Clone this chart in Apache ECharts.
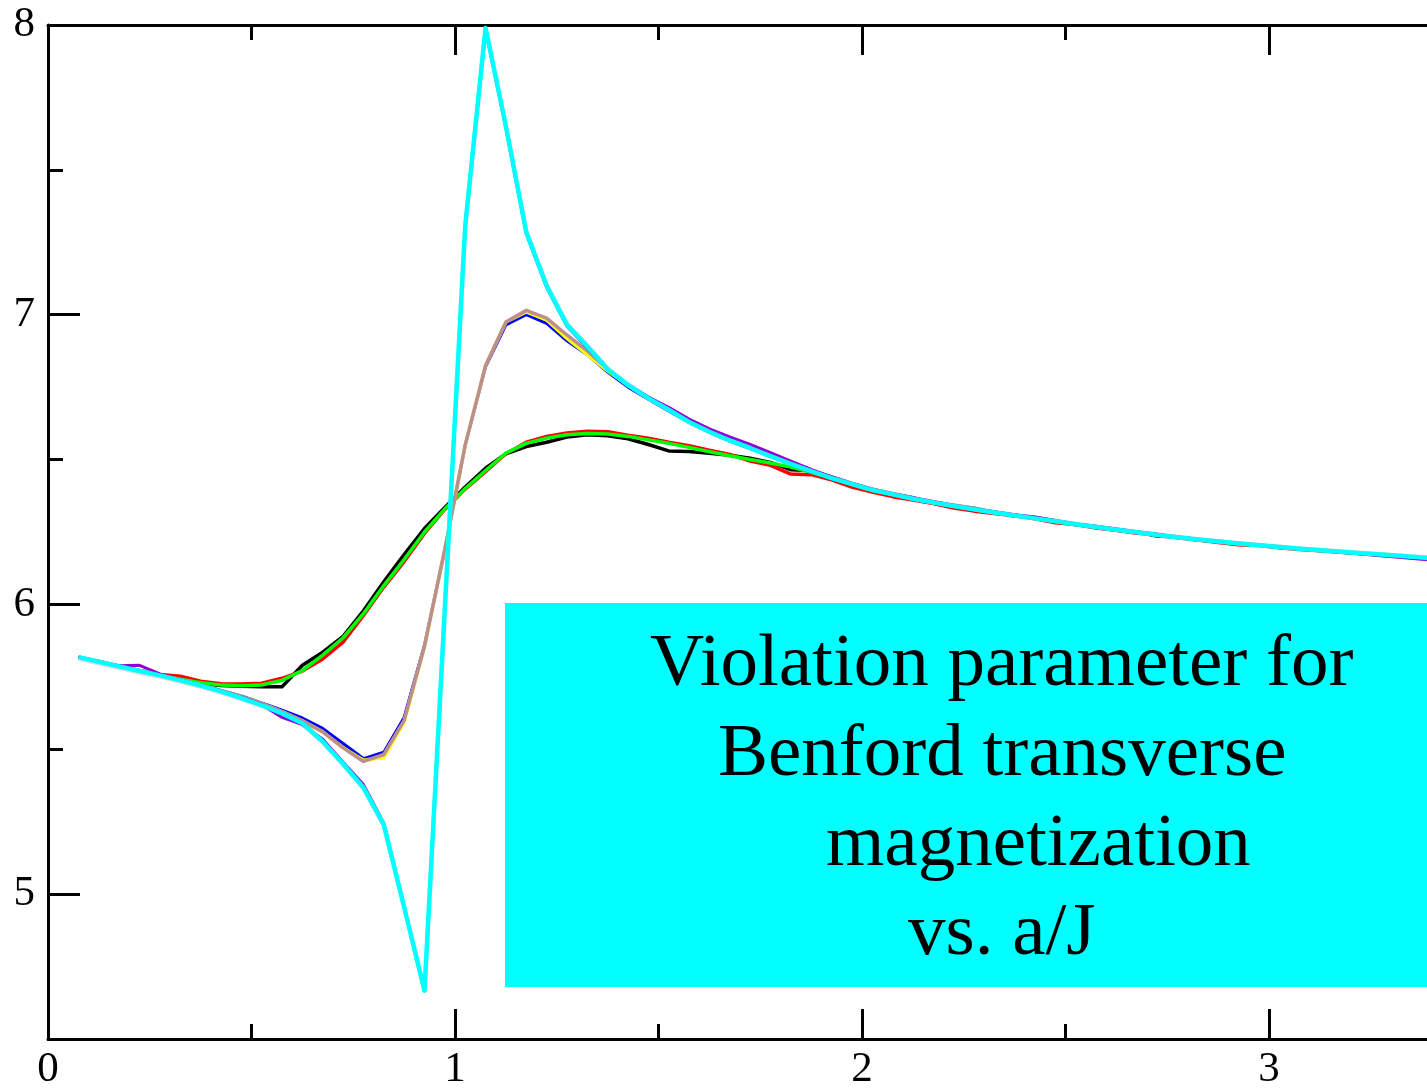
<!DOCTYPE html>
<html><head><meta charset="utf-8">
<script src="https://cdn.jsdelivr.net/npm/echarts@6/dist/echarts.min.js"></script>
<style>html,body{margin:0;padding:0;background:#fff}#c{width:1427px;height:1091px}</style>
</head><body><div id="c"></div>
<script>
// x = a/J
const xValues = [0.075,0.125,0.175,0.225,0.275,0.325,0.375,0.425,0.475,0.525,0.575,0.625,0.675,0.725,0.775,0.825,0.875,0.925,0.975,1.025,1.075,1.125,1.175,1.225,1.275,1.325,1.375,1.425,1.475,1.525,1.575,1.625,1.675,1.725,1.775,1.825,1.875,1.925,1.975,
2.025,2.075,2.125,2.175,2.225,2.275,2.325,2.375,2.425,2.475,2.525,2.575,2.625,2.675,2.725,2.775,2.825,2.875,2.925,2.975,3.025,3.075,3.125,3.175,3.225,3.275,3.325,3.375,3.425];

const blackVals = [5.818,5.802,5.786,5.770,5.754,5.740,5.728,5.720,5.718,5.716,5.716,5.790,5.835,5.890,5.978,6.078,6.172,6.262,6.335,6.405,6.470,6.520,6.545,6.560,6.578,6.586,6.582,6.572,6.552,6.530,6.528,6.522,6.515,6.505,6.490,6.465,6.462,6.440,6.418,
6.398,6.382,6.368,6.350,6.342,6.332,6.318,6.305,6.300,6.288,6.275,6.268,6.256,6.250,6.236,6.233,6.222,6.218,6.208,6.205,6.197,6.193,6.186,6.183,6.176,6.173,6.166,6.163,6.156];
const redVals = [5.818,5.803,5.788,5.772,5.758,5.752,5.735,5.726,5.725,5.728,5.745,5.770,5.812,5.870,5.962,6.060,6.148,6.245,6.328,6.398,6.458,6.520,6.560,6.580,6.592,6.598,6.596,6.584,6.574,6.560,6.548,6.532,6.518,6.495,6.480,6.450,6.448,6.430,6.405,
6.388,6.372,6.360,6.348,6.333,6.322,6.314,6.306,6.296,6.282,6.276,6.264,6.256,6.246,6.241,6.230,6.222,6.214,6.206,6.203,6.196,6.190,6.185,6.180,6.176,6.170,6.165,6.160,6.155];
const greenVals = [5.818,5.802,5.786,5.771,5.756,5.742,5.730,5.722,5.719,5.722,5.738,5.772,5.825,5.885,5.968,6.065,6.155,6.250,6.330,6.400,6.462,6.522,6.556,6.574,6.586,6.590,6.588,6.580,6.568,6.556,6.542,6.527,6.513,6.500,6.488,6.474,6.456,6.436,6.415,
6.395,6.380,6.365,6.352,6.340,6.328,6.317,6.307,6.297,6.287,6.277,6.267,6.258,6.249,6.240,6.232,6.224,6.217,6.210,6.204,6.198,6.192,6.187,6.182,6.177,6.172,6.167,6.162,6.157];
const blueVals = [5.818,5.802,5.787,5.772,5.756,5.740,5.722,5.703,5.684,5.660,5.635,5.608,5.572,5.520,5.468,5.490,5.610,5.860,6.190,6.550,6.820,6.965,7.000,6.970,6.910,6.862,6.802,6.750,6.708,6.668,6.628,6.594,6.564,6.538,6.510,6.484,6.458,6.434,6.414,
6.396,6.379,6.366,6.351,6.341,6.327,6.318,6.306,6.298,6.286,6.278,6.266,6.259,6.248,6.241,6.231,6.225,6.216,6.211,6.203,6.199,6.191,6.188,6.181,6.178,6.171,6.168,6.161,6.158];
const yellowVals = [5.818,5.802,5.787,5.772,5.756,5.740,5.722,5.702,5.682,5.658,5.630,5.598,5.560,5.505,5.462,5.472,5.595,5.855,6.190,6.550,6.825,6.975,7.010,6.982,6.918,6.862,6.806,6.756,6.711,6.671,6.630,6.596,6.566,6.540,6.512,6.485,6.460,6.436,6.415,
6.395,6.380,6.365,6.352,6.340,6.328,6.317,6.307,6.297,6.287,6.277,6.267,6.258,6.249,6.240,6.232,6.224,6.217,6.210,6.204,6.198,6.192,6.187,6.182,6.177,6.172,6.167,6.162,6.157];
const brownVals = [5.818,5.802,5.787,5.772,5.756,5.740,5.722,5.702,5.682,5.658,5.630,5.598,5.560,5.505,5.458,5.482,5.600,5.855,6.190,6.550,6.825,6.975,7.015,6.988,6.930,6.875,6.812,6.757,6.712,6.672,6.630,6.596,6.566,6.540,6.512,6.485,6.460,6.436,6.415,
6.396,6.381,6.366,6.352,6.341,6.329,6.317,6.308,6.297,6.288,6.277,6.268,6.258,6.250,6.240,6.233,6.224,6.218,6.210,6.205,6.198,6.193,6.187,6.183,6.177,6.173,6.167,6.163,6.157];
const greyVals = [5.812,5.796,5.780,5.764,5.750,5.733,5.716,5.696,5.673,5.648,5.620,5.586,5.523,5.446,5.364,5.236,4.955,4.667,5.986,7.306,7.990,7.650,7.290,7.105,6.970,6.895,6.816,6.760,6.715,6.675,6.632,6.598,6.568,6.542,6.514,6.487,6.462,6.438,6.417,
6.397,6.382,6.367,6.354,6.342,6.330,6.319,6.309,6.299,6.289,6.279,6.269,6.260,6.251,6.242,6.234,6.226,6.219,6.212,6.206,6.200,6.194,6.189,6.184,6.179,6.174,6.169,6.164,6.159];
const violetVals = [5.818,5.802,5.788,5.790,5.760,5.740,5.722,5.702,5.680,5.655,5.610,5.585,5.535,5.455,5.378,5.245,4.958,4.667,5.986,7.300,7.985,7.645,7.280,7.095,6.960,6.885,6.810,6.758,6.716,6.680,6.640,6.606,6.578,6.552,6.524,6.495,6.466,6.440,6.418,
6.398,6.382,6.368,6.355,6.342,6.330,6.320,6.310,6.302,6.290,6.278,6.270,6.260,6.251,6.242,6.233,6.225,6.218,6.211,6.205,6.199,6.192,6.186,6.180,6.174,6.168,6.162,6.156,6.150];
const cyanVals = [5.818,5.802,5.786,5.770,5.755,5.738,5.720,5.700,5.677,5.652,5.624,5.590,5.527,5.450,5.368,5.240,4.955,4.667,5.986,7.306,7.990,7.650,7.285,7.100,6.965,6.890,6.812,6.757,6.712,6.672,6.630,6.596,6.566,6.540,6.512,6.485,6.460,6.436,6.415,
6.395,6.380,6.365,6.352,6.340,6.328,6.317,6.307,6.297,6.287,6.277,6.267,6.258,6.249,6.240,6.232,6.224,6.217,6.210,6.204,6.198,6.192,6.187,6.182,6.177,6.172,6.167,6.162,6.157];

const xMajorTicks = [0, 1, 2, 3];
const xMinorTicks = [0.5, 1.5, 2.5];
const yMajorTicks = [5, 6, 7, 8];
const yMinorTicks = [5.5, 6.5, 7.5];
const annotationLines = ['Violation parameter for', 'Benford transverse', 'magnetization', 'vs. a/J'];

const seriesDefs = [
  {name: 'black', color: '#000000', vals: blackVals, w: 3.5},
  {name: 'red', color: '#ff0000', vals: redVals, w: 3.5},
  {name: 'green', color: '#00ff00', vals: greenVals, w: 3.5},
  {name: 'blue', color: '#0000ff', vals: blueVals, w: 3},
  {name: 'yellow', color: '#ffff00', vals: yellowVals, w: 3.5},
  {name: 'brown', color: '#bc8f8f', vals: brownVals, w: 3.5},
  {name: 'grey', color: '#dcdcdc', vals: greyVals, w: 4},
  {name: 'violet', color: '#9400d3', vals: violetVals, w: 3},
  {name: 'cyan', color: '#00ffff', vals: cyanVals, w: 4.5}
];

const FONT = '"Liberation Serif", "Times New Roman", serif';
const chart = echarts.init(document.getElementById('c'), null, {renderer: 'canvas'});

const axLine = {show: true, lineStyle: {color: '#000', width: 3}};
const noLine = {show: false};
const tickStyle = {color: '#000', width: 3};

const option = {
  animation: false,
  backgroundColor: '#ffffff',
  grid: {left: 48, top: 25, right: 0, bottom: 49},
  xAxis: [
    {type: 'value', min: 0, max: 3.388, position: 'bottom', axisLine: axLine,
     axisTick: {show: true, inside: true, length: 30, customValues: xMajorTicks, lineStyle: tickStyle},
     axisLabel: {show: true, customValues: xMajorTicks, fontFamily: FONT, fontSize: 43, color: '#000', margin: 9},
     splitLine: {show: false}},
    {type: 'value', min: 0, max: 3.388, position: 'bottom', axisLine: noLine,
     axisTick: {show: true, inside: true, length: 15, customValues: xMinorTicks, lineStyle: tickStyle},
     axisLabel: {show: false}, splitLine: {show: false}},
    {type: 'value', min: 0, max: 3.388, position: 'top', axisLine: axLine,
     axisTick: {show: true, inside: true, length: 30, customValues: xMajorTicks, lineStyle: tickStyle},
     axisLabel: {show: false}, splitLine: {show: false}},
    {type: 'value', min: 0, max: 3.388, position: 'top', axisLine: noLine,
     axisTick: {show: true, inside: true, length: 15, customValues: xMinorTicks, lineStyle: tickStyle},
     axisLabel: {show: false}, splitLine: {show: false}}
  ],
  yAxis: [
    {type: 'value', min: 4.5, max: 8, position: 'left', axisLine: axLine,
     axisTick: {show: true, inside: true, length: 32, customValues: yMajorTicks, lineStyle: tickStyle},
     axisLabel: {show: true, customValues: yMajorTicks, fontFamily: FONT, fontSize: 43, color: '#000', margin: 13},
     splitLine: {show: false}},
    {type: 'value', min: 4.5, max: 8, position: 'left', axisLine: noLine,
     axisTick: {show: true, inside: true, length: 15, customValues: yMinorTicks, lineStyle: tickStyle},
     axisLabel: {show: false}, splitLine: {show: false}}
  ],
  series: seriesDefs.map(d => ({
    name: d.name, type: 'line', xAxisIndex: 0, yAxisIndex: 0,
    data: xValues.map((x, i) => [x, d.vals[i]]),
    showSymbol: false, symbol: 'none', smooth: false, clip: true,
    lineStyle: {color: d.color, width: d.w, join: 'round'},
    itemStyle: {color: d.color}
  })),
  graphic: [
    {type: 'rect', shape: {x: 505, y: 603, width: 922, height: 384}, style: {fill: '#00ffff'}, z: 10},
    {type: 'text', x: 650, y: 665, style: {text: annotationLines[0], font: '75px ' + FONT, fill: '#000', verticalAlign: 'middle'}, z: 11},
    {type: 'text', x: 718, y: 755, style: {text: annotationLines[1], font: '75px ' + FONT, fill: '#000', verticalAlign: 'middle'}, z: 11},
    {type: 'text', x: 826, y: 845, style: {text: annotationLines[2], font: '75px ' + FONT, fill: '#000', verticalAlign: 'middle'}, z: 11},
    {type: 'text', x: 908, y: 934, style: {text: annotationLines[3], font: '75px ' + FONT, fill: '#000', verticalAlign: 'middle'}, z: 11}
  ]
};
chart.setOption(option);
</script>
</body></html>
